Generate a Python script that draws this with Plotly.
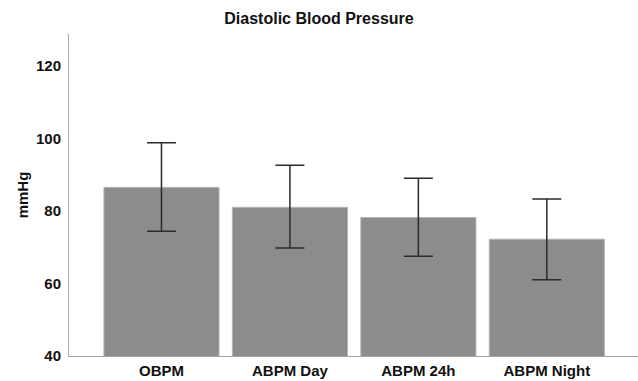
import plotly.graph_objects as go

categories = ["OBPM", "ABPM Day", "ABPM 24h", "ABPM Night"]
means = [86.5, 81.0, 78.2, 72.2]
ci_upper = [98.8, 92.6, 89.0, 83.3]
ci_lower = [74.4, 69.8, 67.5, 61.0]
y_ticks = [40, 60, 80, 100, 120]

err_plus = [u - m for u, m in zip(ci_upper, means)]
err_minus = [m - l for m, l in zip(means, ci_lower)]

fig = go.Figure()
fig.add_trace(go.Bar(
    x=list(range(len(categories))),
    y=means,
    marker=dict(color="#8c8c8c", line=dict(color="#b4b4b4", width=1)),
    error_y=dict(type="data", symmetric=False, array=err_plus, arrayminus=err_minus,
                 color="#2b2b2b", thickness=1.5, width=14.5),
    showlegend=False,
))

font_family = "Liberation Sans, Arial, sans-serif"
fig.update_layout(
    width=638, height=381,
    margin=dict(l=69, r=0, t=34, b=25),
    paper_bgcolor="white", plot_bgcolor="white",
    bargap=0.104,
    title=dict(text="<b>Diastolic Blood Pressure</b>", x=0.5, xref="container",
               y=1 - 18 / 381, yanchor="middle", yref="container",
               font=dict(family=font_family, size=16, color="#111")),
    font=dict(family=font_family, color="#111"),
    xaxis=dict(
        range=[-0.72, 3.71],
        tickmode="array", tickvals=list(range(len(categories))),
        ticktext=[f"<b>{c}</b>" for c in categories],
        tickfont=dict(size=15, family=font_family, color="#111"),
        showline=True, linecolor="#a8a8a8", linewidth=1,
        showgrid=False, zeroline=False,
        ticks="outside", ticklen=1, tickcolor="rgba(0,0,0,0)",
    ),
    yaxis=dict(
        range=[40, 128.8],
        tickmode="array", tickvals=y_ticks,
        ticktext=[f"<b>{t}</b>" for t in y_ticks],
        tickfont=dict(size=15, family=font_family, color="#111"),
        showline=True, linecolor="#a8a8a8", linewidth=1,
        showgrid=False, zeroline=False,
        ticks="outside", ticklen=4, tickcolor="rgba(0,0,0,0)",
        title=dict(text="<b>mmHg</b>", standoff=3,
                   font=dict(size=15, family=font_family, color="#111")),
    ),
)

fig.write_html("out.html", config={"displayModeBar": False},
               post_script="document.body.style.margin='0';")
